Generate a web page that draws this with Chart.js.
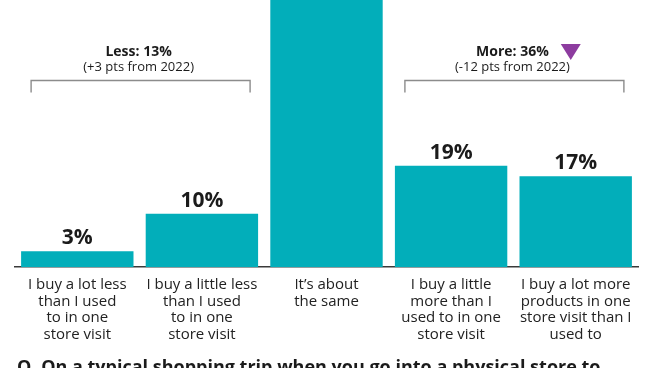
<!DOCTYPE html>
<html>
<head>
<meta charset="utf-8">
<script src="https://cdn.jsdelivr.net/npm/chart.js@4.4.1/dist/chart.umd.min.js"></script>
<style>
  html, body { margin: 0; padding: 0; background: #ffffff; overflow: hidden; }
  #wrap { width: 655px; height: 368px; position: relative; }
</style>
</head>
<body>
<div id="wrap"><canvas id="c" width="655" height="368"></canvas></div>
<script>
// ---- data ----
const categories = [
  ["I buy a lot less", "than I used", "to in one", "store visit"],
  ["I buy a little less", "than I used", "to in one", "store visit"],
  ["It\u2019s about", "the same"],
  ["I buy a little", "more than I", "used to in one", "store visit"],
  ["I buy a lot more", "products in one", "store visit than I", "used to"]
];
const values = [3, 10, 51, 19, 17];
const valueLabels = ["3%", "10%", "51%", "19%", "17%"];
const groupTitles = ["Less: 13%", "More: 36%"];
const groupNotes = ["(+3 pts from 2022)", "(-12 pts from 2022)"];
const groupFirst = [0, 3];
const groupLast = [1, 4];
const groupArrow = [false, true];
const question = "Q. On a typical shopping trip when you go into a physical store to";

const TEAL = "#02aeba";
const INK = "#1b1b1b";
const GREY = "#8c8c8c";
const PURPLE = "#8d3c9f";
const FONT = '"Open Sans", "DejaVu Sans", sans-serif';

const annotations = {
  id: "annotations",
  afterDatasetsDraw(chart) {
    const ctx = chart.ctx;
    const bars = chart.getDatasetMeta(0).data;
    const top = chart.chartArea.top;
    ctx.save();
    // value labels
    ctx.fillStyle = INK;
    ctx.font = "bold 21px " + FONT;
    ctx.textAlign = "center";
    ctx.textBaseline = "alphabetic";
    bars.forEach((b, i) => {
      ctx.fillText(valueLabels[i], b.x, b.y - 7);
    });
    // group brackets
    groupTitles.forEach((t, g) => {
      const b0 = bars[groupFirst[g]], b1 = bars[groupLast[g]];
      const left = b0.x - b0.width / 2 + 10;
      const right = b1.x + b1.width / 2 - 8;
      const y = top + 80.5;
      ctx.strokeStyle = GREY;
      ctx.lineWidth = 1.4;
      ctx.beginPath();
      ctx.moveTo(left, y + 12);
      ctx.lineTo(left, y);
      ctx.lineTo(right, y);
      ctx.lineTo(right, y + 12);
      ctx.stroke();
      const cx = (left + right) / 2 - 2;
      ctx.fillStyle = INK;
      ctx.textAlign = "center";
      ctx.font = "bold 14px " + FONT;
      ctx.fillText(t, cx, top + 56);
      ctx.font = "13px " + FONT;
      ctx.fillText(groupNotes[g], cx, top + 71);
      if (groupArrow[g]) {
        ctx.font = "bold 14px " + FONT;
        const w = ctx.measureText(t).width;
        const ax = cx + w / 2 + 12;
        ctx.fillStyle = PURPLE;
        ctx.beginPath();
        ctx.moveTo(ax, top + 44);
        ctx.lineTo(ax + 20, top + 44);
        ctx.lineTo(ax + 10, top + 60);
        ctx.closePath();
        ctx.fill();
      }
    });
    // question (cut at the bottom edge, as in the source)
    ctx.fillStyle = INK;
    ctx.textAlign = "left";
    ctx.font = "bold 18px " + FONT;
    ctx.fillText(question, 17, 373);
    ctx.restore();
  }
};

function draw() {
  new Chart(document.getElementById("c"), {
    type: "bar",
    data: {
      labels: categories,
      datasets: [{
        data: values,
        backgroundColor: TEAL,
        borderWidth: 0,
        barPercentage: 0.902,
        categoryPercentage: 1.0
      }]
    },
    options: {
      responsive: false,
      animation: false,
      events: [],
      layout: { padding: { left: 15, right: 17, top: 0, bottom: 16 } },
      plugins: { legend: { display: false }, tooltip: { enabled: false }, title: { display: false } },
      scales: {
        x: {
          grid: { display: false, drawTicks: false, tickLength: 0 },
          border: { display: true, color: "#3a3a3a", width: 1.5 },
          ticks: {
            color: "#222222",
            font: { family: FONT, size: 15, lineHeight: "16.7px" },
            padding: 9,
            maxRotation: 0,
            autoSkip: false
          }
        },
        y: {
          display: false,
          min: 0,
          max: 50
        }
      }
    },
    plugins: [annotations]
  });
}

Promise.all([
  document.fonts.load('14px "Open Sans"'),
  document.fonts.load('bold 14px "Open Sans"')
]).then(draw, draw);
</script>
</body>
</html>
